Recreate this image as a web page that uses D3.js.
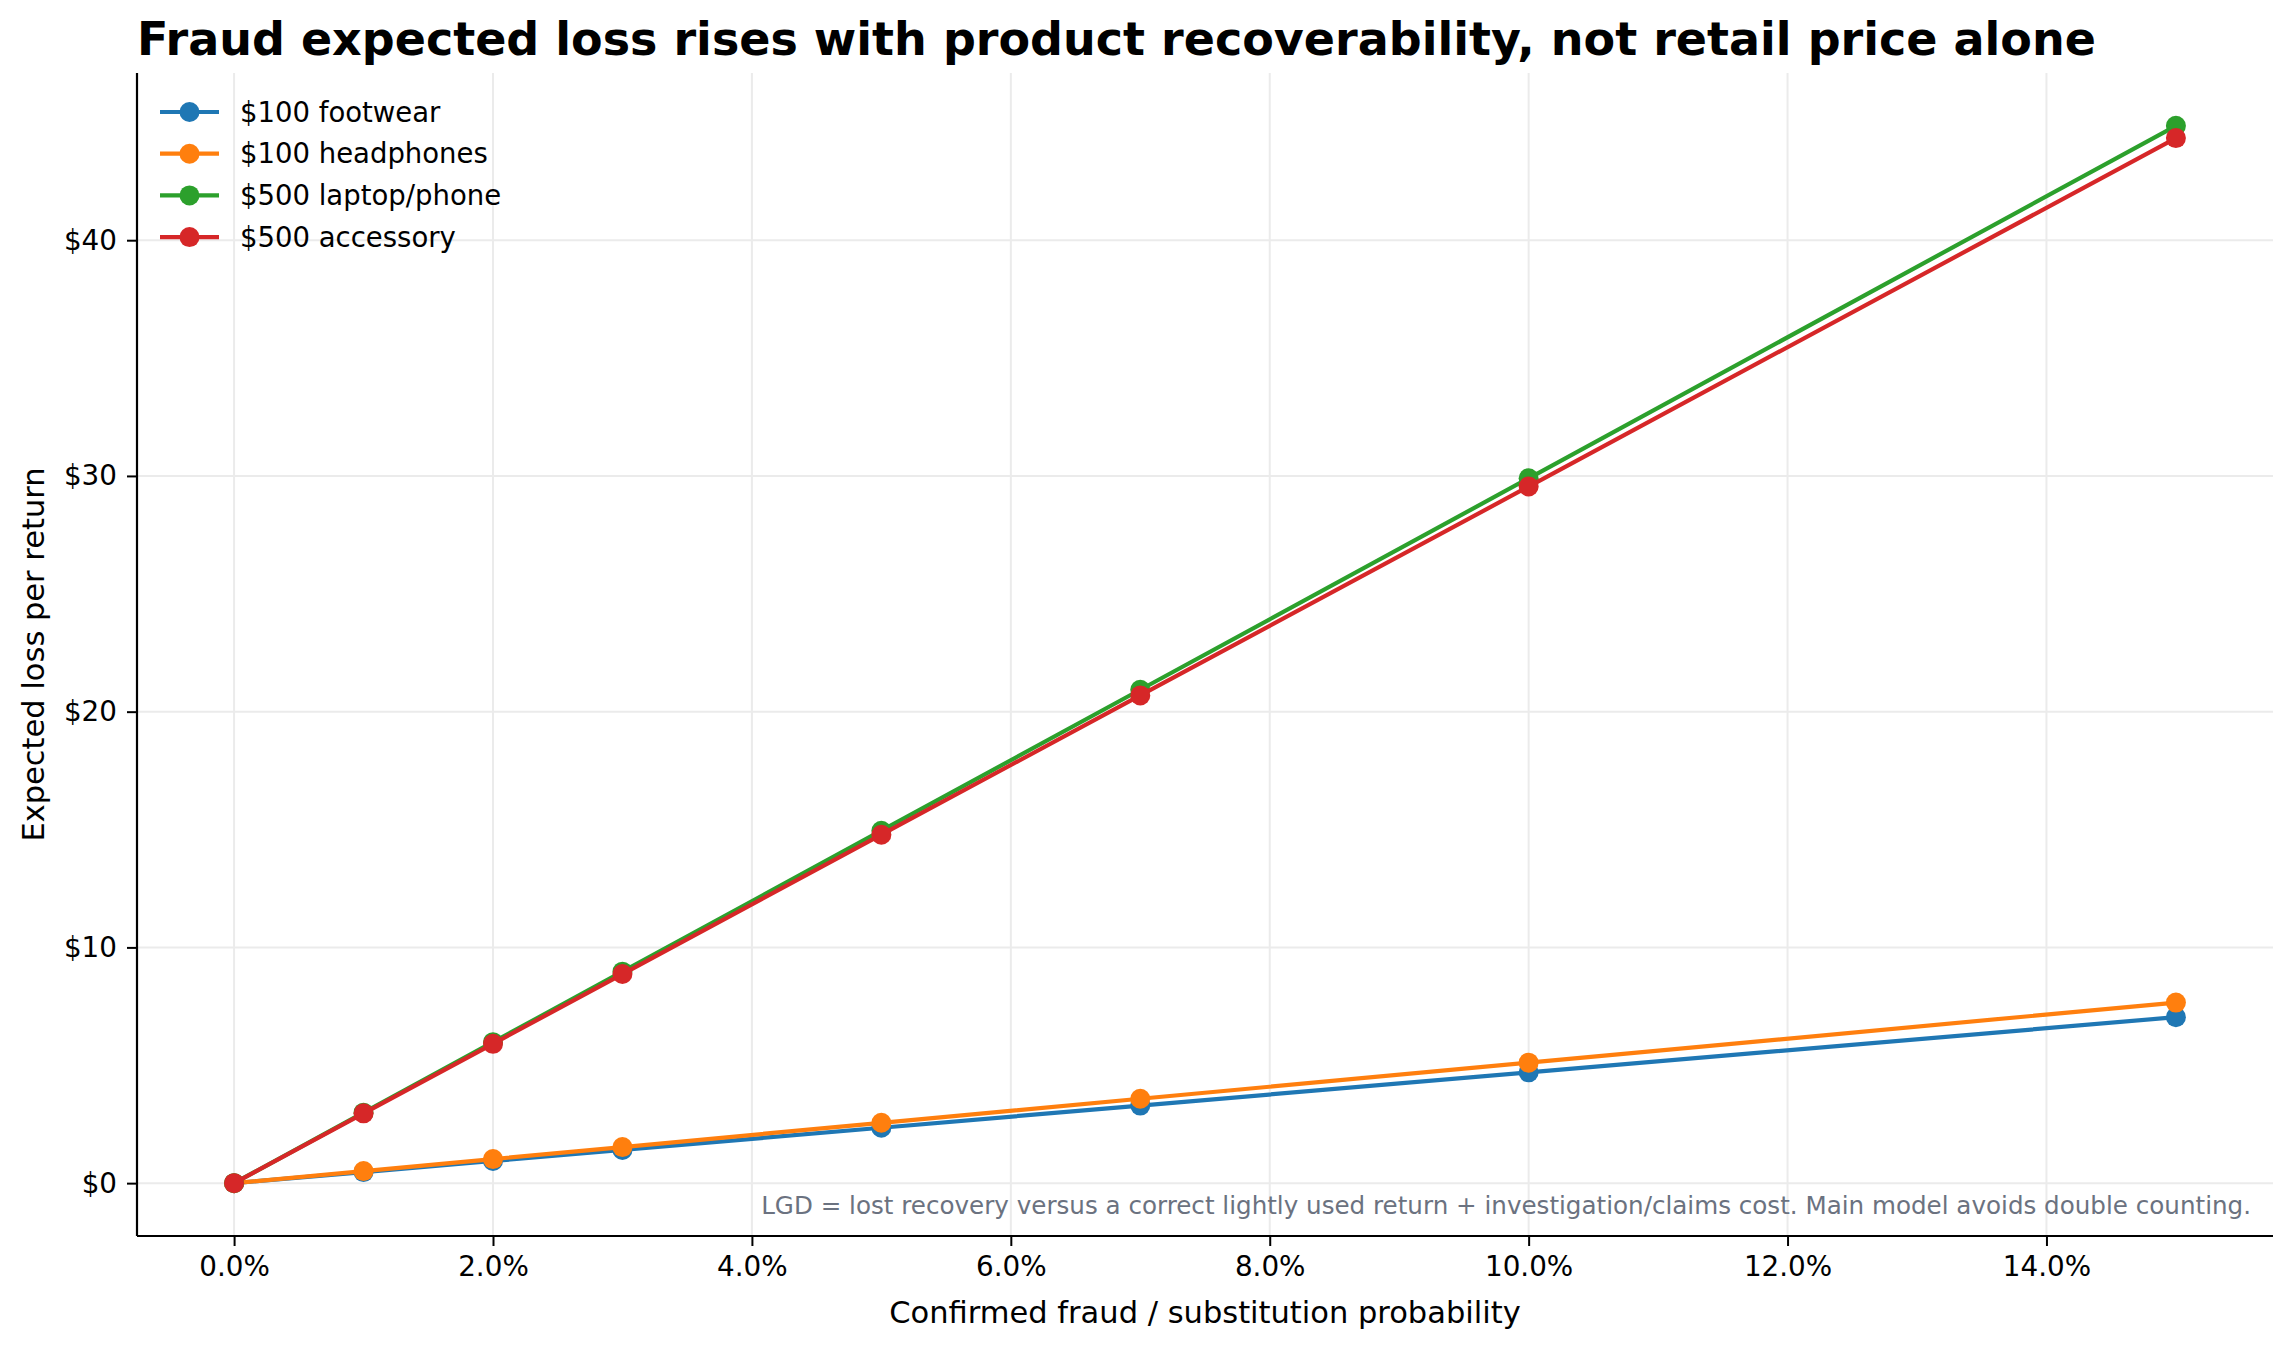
<!DOCTYPE html>
<html>
<head>
<meta charset="utf-8">
<script src="https://cdn.jsdelivr.net/npm/d3@7"></script>
<style>
  body { margin: 0; background: #fff; }
  svg { display: block; font-family: "DejaVu Sans", sans-serif; }
</style>
</head>
<body>
<div id="plot"></div>
<script>
// fraud probability (%) at each point
const fraudPct = [0, 1, 2, 3, 5, 7, 10, 15];

// expected loss per return ($)
const footwear100 = [0, 0.47, 0.94, 1.41, 2.35, 3.29, 4.70, 7.04];
const headphones100 = [0, 0.51, 1.02, 1.53, 2.56, 3.58, 5.11, 7.66];
const laptop500 = [0, 2.99, 5.98, 8.97, 14.95, 20.93, 29.90, 44.85];
const accessory500 = [0, 2.96, 5.91, 8.87, 14.78, 20.69, 29.55, 44.33];

const seriesNames = ["$100 footwear", "$100 headphones", "$500 laptop/phone", "$500 accessory"];
const seriesColors = ["#1f77b4", "#ff7f0e", "#2ca02c", "#d62728"];
const seriesValues = [footwear100, headphones100, laptop500, accessory500];

const xTicks = [0, 2, 4, 6, 8, 10, 12, 14];
const yTicks = [0, 10, 20, 30, 40];

const W = 2294, H = 1349;
const margin = { top: 73, right: 21, bottom: 113, left: 137 };
const width = W - margin.left - margin.right;
const height = H - margin.top - margin.bottom;

const svg = d3.select("#plot").append("svg")
  .attr("width", W)
  .attr("height", H);

const g = svg.append("g")
  .attr("transform", `translate(${margin.left},${margin.top})`);

const x = d3.scaleLinear().domain([-0.75, 15.75]).range([0, width]);
const y = d3.scaleLinear().domain([-2.2425, 47.0925]).range([height, 0]);

// grid
g.append("g").selectAll("line")
  .data(xTicks).enter().append("line")
  .attr("x1", d => x(d)).attr("x2", d => x(d))
  .attr("y1", 0).attr("y2", height)
  .attr("stroke", "#ebebeb").attr("stroke-width", 2);

g.append("g").selectAll("line")
  .data(yTicks).enter().append("line")
  .attr("x1", 0).attr("x2", width)
  .attr("y1", d => y(d)).attr("y2", d => y(d))
  .attr("stroke", "#ebebeb").attr("stroke-width", 2);

// footnote (drawn under the lines)
g.append("text")
  .attr("x", width - 22)
  .attr("y", height - 22)
  .attr("text-anchor", "end")
  .attr("fill", "#6b7280")
  .style("font-size", "24.6px")
  .text("LGD = lost recovery versus a correct lightly used return + investigation/claims cost. Main model avoids double counting.");

// lines + markers
const line = d3.line()
  .x((d, i) => x(fraudPct[i]))
  .y(d => y(d));

seriesValues.forEach((vals, s) => {
  g.append("path")
    .datum(vals)
    .attr("fill", "none")
    .attr("stroke", seriesColors[s])
    .attr("stroke-width", 4.2)
    .attr("stroke-linejoin", "round")
    .attr("d", line);

  g.append("g").selectAll("circle")
    .data(vals).enter().append("circle")
    .attr("cx", (d, i) => x(fraudPct[i]))
    .attr("cy", d => y(d))
    .attr("r", 10)
    .attr("fill", seriesColors[s]);
});

// axes
const xAxis = g.append("g")
  .attr("transform", `translate(0,${height})`)
  .call(d3.axisBottom(x).tickValues(xTicks).tickFormat(d => d.toFixed(1) + "%").tickSize(10).tickPadding(10).tickSizeOuter(0));

const yAxis = g.append("g")
  .call(d3.axisLeft(y).tickValues(yTicks).tickFormat(d => "$" + d).tickSize(10).tickPadding(10).tickSizeOuter(0));

[xAxis, yAxis].forEach(ax => {
  ax.select(".domain").attr("stroke", "#000").attr("stroke-width", 2.2);
  ax.selectAll(".tick line").attr("stroke", "#000").attr("stroke-width", 2);
  ax.selectAll(".tick text")
    .attr("fill", "#000")
    .style("font-family", "DejaVu Sans, sans-serif")
    .style("font-size", "27.8px");
});

// only left and bottom spines
xAxis.select(".domain").attr("d", `M0,0H${width}`);
yAxis.select(".domain").attr("d", `M0,0V${height}`);

// axis labels
svg.append("text")
  .attr("x", margin.left + width / 2)
  .attr("y", 1323)
  .attr("text-anchor", "middle")
  .style("font-size", "30.5px")
  .text("Confirmed fraud / substitution probability");

svg.append("text")
  .attr("transform", `translate(44,${margin.top + height / 2}) rotate(-90)`)
  .attr("text-anchor", "middle")
  .style("font-size", "30.5px")
  .text("Expected loss per return");

// title
svg.append("text")
  .attr("x", 137)
  .attr("y", 55)
  .style("font-size", "46px")
  .style("font-weight", "bold")
  .text("Fraud expected loss rises with product recoverability, not retail price alone");

// legend
const legend = svg.append("g");
seriesNames.forEach((name, i) => {
  const ly = 112 + i * 41.7;
  legend.append("line")
    .attr("x1", 160).attr("x2", 219)
    .attr("y1", ly).attr("y2", ly)
    .attr("stroke", seriesColors[i]).attr("stroke-width", 4.2);
  legend.append("circle")
    .attr("cx", 189.5).attr("cy", ly).attr("r", 10)
    .attr("fill", seriesColors[i]);
  legend.append("text")
    .attr("x", 240).attr("y", ly)
    .attr("dy", "0.35em")
    .style("font-size", "27.5px")
    .text(name);
});
</script>
</body>
</html>
